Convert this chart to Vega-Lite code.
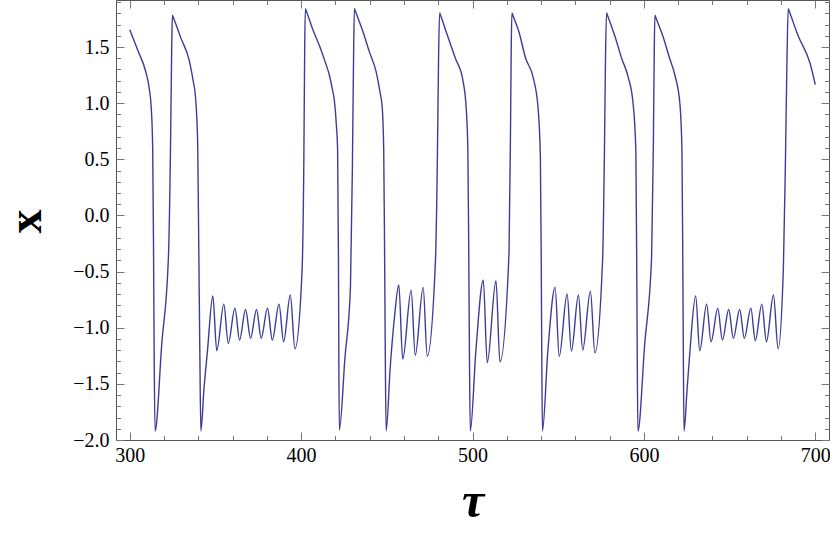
{
  "$schema": "https://vega.github.io/schema/vega-lite/v6.json",
  "width": 713,
  "height": 440,
  "autosize": "none",
  "padding": {"left": 116, "top": 0, "right": 1, "bottom": 98},
  "background": "white",
  "config": {
    "view": {"stroke": "#555555", "strokeWidth": 1},
    "axis": {"grid": false, "domain": false, "tickColor": "#777777", "tickWidth": 1,
             "labelFont": "Liberation Serif", "labelFontSize": 20, "labelColor": "#000000",
             "titleFont": "Liberation Serif", "titleColor": "#000000", "labelFlush": false, "labelOverlap": false}
  },
  "data": {"values": [
    {"t":300,"v":1.655},{"t":305,"v":1.46},{"t":309.4,"v":1.278},{"t":311.5,"v":1.12},{"t":312.6,"v":0.95},{"t":313.4,"v":0.6},{"t":313.9,"v":-0.3},{"t":314.3,"v":-1.3},{"t":314.8,"v":-1.92},
    {"t":318.7,"v":-1.144},{"t":322.6,"v":-0.368},{"t":323.8,"v":0.6},{"t":324.5,"v":1.5},{"t":324.9,"v":1.783},{"t":325.5,"v":1.76},
    {"t":330,"v":1.575},{"t":334.7,"v":1.383},{"t":337,"v":1.2},{"t":338.2,"v":1.086},{"t":339.2,"v":0.85},{"t":339.7,"v":0.6},{"t":340.3,"v":-0.3},{"t":340.9,"v":-1.2},{"t":341.5,"v":-1.92},
    {"t":343.3,"v":-1.55},{"t":345.4,"v":-1.2},
    {"t":348.5,"v":-0.718},{"t":350.8,"v":-1.205},{"t":354.9,"v":-0.79},{"t":357.5,"v":-1.14},{"t":361.4,"v":-0.825},{"t":364.1,"v":-1.11},{"t":367.6,"v":-0.837},{"t":370.5,"v":-1.095},{"t":374.0,"v":-0.837},{"t":376.7,"v":-1.095},{"t":380.4,"v":-0.825},{"t":383.2,"v":-1.11},{"t":387.1,"v":-0.79},{"t":389.8,"v":-1.125},{"t":393.7,"v":-0.709},{"t":396.4,"v":-1.187},
    {"t":400.5,"v":-0.516},{"t":401.6,"v":0.5},{"t":402.1,"v":1.5},{"t":402.5,"v":1.842},{"t":403.1,"v":1.818},
    {"t":406.5,"v":1.67},{"t":410.6,"v":1.515},{"t":414,"v":1.37},{"t":416.5,"v":1.249},{"t":418.3,"v":1.12},{"t":419.4,"v":1.025},{"t":420.6,"v":0.8},{"t":421.3,"v":0.58},{"t":421.8,"v":-0.4},{"t":422.0,"v":-1.2},{"t":422.3,"v":-1.911},
    {"t":425.55,"v":-1.273},{"t":428.8,"v":-0.635},{"t":429.9,"v":0.4},{"t":430.6,"v":1.4},{"t":431.1,"v":1.842},{"t":431.7,"v":1.818},
    {"t":436,"v":1.64},{"t":440,"v":1.45},{"t":443.8,"v":1.278},{"t":446,"v":1.1},{"t":447.3,"v":0.967},{"t":448.2,"v":0.58},{"t":448.7,"v":-0.3},{"t":449.1,"v":-1.2},{"t":449.6,"v":-1.92},
    {"t":452.0,"v":-1.35},{"t":454.5,"v":-0.902},{"t":457.0,"v":-0.62},{"t":459.3,"v":-1.28},{"t":464.2,"v":-0.665},{"t":466.6,"v":-1.245},{"t":471.2,"v":-0.641},{"t":473.6,"v":-1.252},
    {"t":478.4,"v":-0.398},{"t":479.5,"v":0.5},{"t":480.2,"v":1.4},{"t":480.8,"v":1.804},{"t":481.4,"v":1.78},
    {"t":485,"v":1.62},{"t":490,"v":1.4},{"t":494.4,"v":1.204},{"t":496.4,"v":0.94},{"t":497.3,"v":0.58},{"t":497.8,"v":-0.3},{"t":498.2,"v":-1.2},{"t":498.7,"v":-1.92},
    {"t":502.0,"v":-1.2},{"t":506.3,"v":-0.576},{"t":508.6,"v":-1.312},{"t":513.7,"v":-0.582},{"t":516.0,"v":-1.303},
    {"t":521.3,"v":-0.338},{"t":522.2,"v":0.8},{"t":522.6,"v":1.5},{"t":523.0,"v":1.804},{"t":523.6,"v":1.78},
    {"t":527,"v":1.64},{"t":531,"v":1.4},{"t":535.3,"v":1.234},{"t":538.2,"v":0.967},{"t":539.6,"v":0.52},{"t":540.1,"v":-0.4},{"t":540.4,"v":-1.2},{"t":540.8,"v":-1.92},
    {"t":544.0,"v":-1.2},{"t":548.2,"v":-0.641},{"t":550.6,"v":-1.255},{"t":555.2,"v":-0.70},{"t":557.7,"v":-1.208},{"t":561.8,"v":-0.709},{"t":564.3,"v":-1.199},{"t":568.8,"v":-0.674},{"t":571.4,"v":-1.223},
    {"t":575.9,"v":-0.398},{"t":577.0,"v":0.6},{"t":577.6,"v":1.4},{"t":578.2,"v":1.804},{"t":578.8,"v":1.78},
    {"t":583,"v":1.6},{"t":587,"v":1.4},{"t":590.8,"v":1.234},{"t":593.7,"v":0.997},{"t":595.3,"v":0.58},{"t":595.8,"v":-0.4},{"t":596.1,"v":-1.2},{"t":596.5,"v":-1.92},
    {"t":600.5,"v":-1.14},{"t":604.5,"v":-0.368},{"t":605.5,"v":0.6},{"t":606.0,"v":1.4},{"t":606.4,"v":1.783},{"t":607.0,"v":1.76},
    {"t":611,"v":1.6},{"t":615,"v":1.4},{"t":618.1,"v":1.249},{"t":621.0,"v":0.997},{"t":622.2,"v":0.58},{"t":622.7,"v":-0.4},{"t":623.0,"v":-1.2},{"t":623.4,"v":-1.92},
    {"t":625.2,"v":-1.55},{"t":626.9,"v":-1.2},
    {"t":630.2,"v":-0.718},{"t":632.6,"v":-1.205},{"t":636.6,"v":-0.79},{"t":639.2,"v":-1.125},{"t":643.1,"v":-0.828},{"t":645.8,"v":-1.11},{"t":649.5,"v":-0.837},{"t":652.2,"v":-1.095},{"t":655.9,"v":-0.837},{"t":658.6,"v":-1.095},{"t":662.4,"v":-0.825},{"t":665.0,"v":-1.116},{"t":668.8,"v":-0.79},{"t":671.5,"v":-1.125},{"t":675.6,"v":-0.709},{"t":678.3,"v":-1.187},
    {"t":681.4,"v":-0.457},{"t":682.6,"v":0.5},{"t":683.5,"v":1.4},{"t":684.2,"v":1.842},{"t":684.8,"v":1.818},
    {"t":690,"v":1.6},{"t":697.0,"v":1.353},{"t":700,"v":1.165}
  ]},
  "resolve": {"axis": {"x": "independent", "y": "independent"}},
  "layer": [
    {
      "mark": {"type": "line", "color": "#3d3d99", "strokeWidth": 1.4, "interpolate": "monotone"},
      "encoding": {
        "x": {"field": "t", "type": "quantitative", "scale": {"domain": [292, 708], "nice": false, "zero": false},
              "axis": {"orient": "bottom", "values": [300, 400, 500, 600, 700], "format": "d", "ticks": false, "labelPadding": 5,
                       "title": "τ", "titleFontSize": 50, "titleFontStyle": "italic", "titleFontWeight": "bold",
                       "titleX": 356.5, "titleY": 76, "titleBaseline": "alphabetic", "titleAlign": "center"}},
        "y": {"field": "v", "type": "quantitative", "scale": {"domain": [-2.0, 1.919], "nice": false, "zero": false},
              "axis": {"orient": "left", "values": [-2.0, -1.5, -1.0, -0.5, 0.0, 0.5, 1.0, 1.5], "format": ".1f", "ticks": false, "labelPadding": 7,
                       "title": "x", "titleFontSize": 48, "titleFontWeight": "bold", "titleAngle": -90,
                       "titleX": -76, "titleY": 221, "titleBaseline": "alphabetic", "titleAlign": "center"}}
      }
    },
    {
      "mark": {"type": "line", "opacity": 0},
      "encoding": {
        "x": {"field": "t", "type": "quantitative", "scale": {"domain": [292, 708], "nice": false, "zero": false},
              "axis": {"orient": "bottom", "values": [300, 400, 500, 600, 700], "labels": false, "tickSize": -8, "title": null}},
        "y": {"field": "v", "type": "quantitative", "scale": {"domain": [-2.0, 1.919], "nice": false, "zero": false},
              "axis": {"orient": "left", "values": [-2.0, -1.5, -1.0, -0.5, 0.0, 0.5, 1.0, 1.5], "labels": false, "tickSize": -8, "title": null}}
      }
    },
    {
      "mark": {"type": "line", "opacity": 0},
      "encoding": {
        "x": {"field": "t", "type": "quantitative", "scale": {"domain": [292, 708], "nice": false, "zero": false},
              "axis": {"orient": "bottom", "values": [320, 340, 360, 380, 420, 440, 460, 480, 520, 540, 560, 580, 620, 640, 660, 680], "labels": false, "tickSize": -4.5, "title": null}},
        "y": {"field": "v", "type": "quantitative", "scale": {"domain": [-2.0, 1.919], "nice": false, "zero": false},
              "axis": {"orient": "left", "values": [-1.9, -1.8, -1.7, -1.6, -1.4, -1.3, -1.2, -1.1, -0.9, -0.8, -0.7, -0.6, -0.4, -0.3, -0.2, -0.1, 0.1, 0.2, 0.3, 0.4, 0.6, 0.7, 0.8, 0.9, 1.1, 1.2, 1.3, 1.4, 1.6, 1.7, 1.8, 1.9], "labels": false, "tickSize": -4.5, "title": null}}
      }
    },
    {
      "mark": {"type": "line", "opacity": 0},
      "encoding": {
        "x": {"field": "t", "type": "quantitative", "scale": {"domain": [292, 708], "nice": false, "zero": false},
              "axis": {"orient": "top", "values": [300, 400, 500, 600, 700], "labels": false, "tickSize": -8, "title": null}},
        "y": {"field": "v", "type": "quantitative", "scale": {"domain": [-2.0, 1.919], "nice": false, "zero": false},
              "axis": {"orient": "right", "values": [-2.0, -1.5, -1.0, -0.5, 0.0, 0.5, 1.0, 1.5], "labels": false, "tickSize": -8, "title": null}}
      }
    },
    {
      "mark": {"type": "line", "opacity": 0},
      "encoding": {
        "x": {"field": "t", "type": "quantitative", "scale": {"domain": [292, 708], "nice": false, "zero": false},
              "axis": {"orient": "top", "values": [320, 340, 360, 380, 420, 440, 460, 480, 520, 540, 560, 580, 620, 640, 660, 680], "labels": false, "tickSize": -4.5, "title": null}},
        "y": {"field": "v", "type": "quantitative", "scale": {"domain": [-2.0, 1.919], "nice": false, "zero": false},
              "axis": {"orient": "right", "values": [-1.9, -1.8, -1.7, -1.6, -1.4, -1.3, -1.2, -1.1, -0.9, -0.8, -0.7, -0.6, -0.4, -0.3, -0.2, -0.1, 0.1, 0.2, 0.3, 0.4, 0.6, 0.7, 0.8, 0.9, 1.1, 1.2, 1.3, 1.4, 1.6, 1.7, 1.8, 1.9], "labels": false, "tickSize": -4.5, "title": null}}
      }
    }
  ]
}
